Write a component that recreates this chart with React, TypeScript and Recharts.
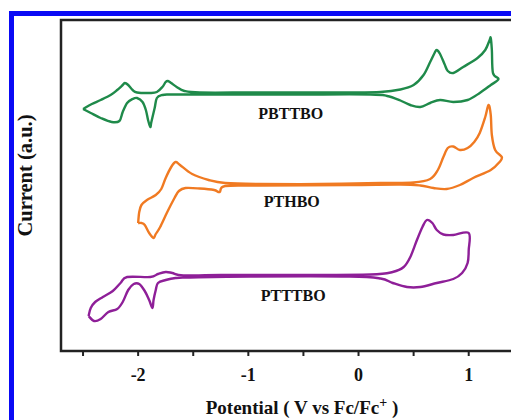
import { LineChart, Line, XAxis, YAxis, ReferenceArea, ReferenceDot } from 'recharts';

// potential (V vs Fc/Fc+) and current (a.u.) read along each closed CV loop
const pbttboV = [-2.5, -2.42, -2.34, -2.25, -2.19, -2.14, -2.12, -2.09, -2.05, -2.01, -1.89, -1.83, -1.78, -1.75, -1.73, -1.7, -1.65, -1.58, -1.44, -0.98, -0.53, -0.08, 0.2, 0.38, 0.5, 0.59, 0.65, 0.69, 0.71, 0.74, 0.78, 0.81, 0.86, 0.95, 1.08, 1.15, 1.19, 1.2, 1.21, 1.22, 1.27, 1.2, 1.1, 0.99, 0.86, 0.74, 0.65, 0.56, 0.47, 0.38, 0.26, 0.11, -0.53, -0.98, -1.44, -1.71, -1.78, -1.83, -1.85, -1.88, -1.89, -1.91, -1.93, -1.96, -2.01, -2.05, -2.1, -2.14, -2.17, -2.24, -2.34, -2.43, -2.5];
const pbttboI = [24.2, 24.7, 25.1, 25.6, 26.1, 26.6, 26.8, 26.6, 26.1, 25.85, 25.8, 25.9, 26.4, 26.9, 27.0, 26.8, 26.4, 26.0, 25.85, 25.85, 25.85, 25.85, 25.9, 26.15, 26.6, 27.6, 28.9, 29.8, 30.1, 29.7, 28.7, 28.0, 27.8, 28.4, 29.3, 30.1, 31.1, 31.3, 30.1, 27.8, 27.2, 26.6, 25.8, 25.1, 24.9, 25.1, 24.8, 24.4, 24.6, 25.05, 25.5, 25.65, 25.65, 25.65, 25.65, 25.65, 25.6, 25.3, 24.3, 22.9, 22.4, 23.1, 24.1, 24.9, 25.3, 25.2, 24.8, 23.9, 23.0, 22.9, 23.3, 23.8, 24.2];

const pthboV = [-2.0, -1.99, -1.97, -1.92, -1.84, -1.79, -1.75, -1.7, -1.66, -1.62, -1.51, -1.36, -1.21, -0.89, -0.35, 0.2, 0.5, 0.65, 0.72, 0.77, 0.81, 0.86, 0.92, 0.99, 1.05, 1.1, 1.15, 1.18, 1.2, 1.21, 1.24, 1.3, 1.28, 1.2, 1.04, 0.92, 0.8, 0.68, 0.56, 0.38, -0.08, -0.89, -1.21, -1.26, -1.31, -1.44, -1.57, -1.63, -1.67, -1.74, -1.8, -1.84, -1.86, -1.9, -1.94, -1.97, -2.0];
const pthboI = [12.8, 13.9, 14.6, 15.1, 15.6, 16.2, 17.3, 18.4, 18.9, 18.6, 17.7, 17.1, 16.8, 16.7, 16.7, 16.8, 16.85, 17.2, 18.1, 19.4, 20.3, 20.45, 20.1, 20.3, 20.9, 21.8, 23.4, 24.6, 23.6, 21.6, 20.1, 19.4, 18.9, 18.1, 17.3, 16.6, 16.2, 16.3, 16.55, 16.65, 16.6, 16.55, 16.5, 15.9, 16.1, 16.25, 16.3, 16.0, 15.3, 13.8, 12.4, 11.7, 11.3, 11.8, 12.6, 12.8, 12.8];

const ptttboV = [-2.45, -2.43, -2.39, -2.32, -2.23, -2.16, -2.1, -1.89, -1.82, -1.75, -1.69, -1.59, -1.25, -0.53, 0.11, 0.31, 0.41, 0.47, 0.53, 0.58, 0.62, 0.67, 0.71, 0.77, 0.86, 1.0, 1.0, 0.99, 0.94, 0.86, 0.71, 0.56, 0.44, 0.31, 0.2, -0.08, -0.98, -1.53, -1.66, -1.75, -1.82, -1.84, -1.86, -1.87, -1.9, -1.94, -1.99, -2.04, -2.09, -2.14, -2.19, -2.27, -2.34, -2.4, -2.45];
const ptttboI = [3.5, 4.3, 4.9, 5.4, 6.0, 6.8, 7.4, 7.4, 7.7, 7.9, 7.8, 7.55, 7.6, 7.6, 7.65, 7.9, 8.4, 9.4, 11.1, 12.4, 13.1, 12.8, 12.1, 11.65, 11.6, 11.8, 10.1, 8.8, 7.8, 7.2, 6.8, 6.4, 6.4, 6.8, 7.25, 7.45, 7.45, 7.35, 7.3, 7.1, 6.8, 6.1, 5.1, 4.3, 5.1, 6.0, 6.7, 6.7, 6.1, 4.9, 4.2, 3.9, 3.2, 3.0, 3.5];

const xTicks = [-2.5, -2, -1.5, -1, -0.5, 0, 0.5, 1];
const X_MIN = -2.7;
const X_MAX = 1.42;
const Y_MIN = 0;
const Y_MAX = 33.1;

const curveNames = ['PBTTBO', 'PTHBO', 'PTTTBO'];
const curveLabelV = [-0.615, -0.606, -0.593];
const curveLabelI = [23.8, 14.93, 5.6];

const toPoints = (v: number[], i: number[]) => v.map((x, k) => ({ v: x, i: i[k] }));

const series = [
  { name: 'PBTTBO', color: '#1f8a4a', data: toPoints(pbttboV, pbttboI) },
  { name: 'PTHBO', color: '#f07a22', data: toPoints(pthboV, pthboI) },
  { name: 'PTTTBO', color: '#8e1f98', data: toPoints(ptttboV, ptttboI) },
];

// smooth curve through the points (catmull-rom), works for loops where x goes back
const smoothLoop = (context: any) => {
  let pts: number[][] = [];
  return {
    areaStart() {},
    areaEnd() {},
    lineStart() {
      pts = [];
    },
    point(x: number, y: number) {
      pts.push([+x, +y]);
    },
    lineEnd() {
      if (!pts.length) return;
      context.moveTo(pts[0][0], pts[0][1]);
      const t = 1 / 6;
      for (let k = 0; k < pts.length - 1; k++) {
        const p0 = pts[k - 1] || pts[k];
        const p1 = pts[k];
        const p2 = pts[k + 1];
        const p3 = pts[k + 2] || p2;
        context.bezierCurveTo(
          p1[0] + (p2[0] - p0[0]) * t,
          p1[1] + (p2[1] - p0[1]) * t,
          p2[0] - (p3[0] - p1[0]) * t,
          p2[1] - (p3[1] - p1[1]) * t,
          p2[0],
          p2[1]
        );
      }
    },
  };
};

const serif = '"Liberation Serif", "Times New Roman", serif';

const XTitle = (props: any) => {
  const vb = props.viewBox;
  const x = vb.x + vb.width / 2 + 14;
  return (
    <text x={x} y={vb.y + 63} textAnchor="middle" fontFamily={serif} fontWeight="bold" fontSize={19} fill="#111">
      Potential ( V vs Fc/Fc
      <tspan dy={-7} fontSize={14}>+</tspan>
      <tspan dy={7}> )</tspan>
    </text>
  );
};

const YTitle = (props: any) => {
  const vb = props.viewBox;
  const x = 17;
  const y = vb.y + vb.height / 2 - 10;
  return (
    <text x={x} y={y} transform={`rotate(-90 ${x} ${y})`} textAnchor="middle" dominantBaseline="central" fontFamily={serif} fontWeight="bold" fontSize={20.5} fill="#111">
      Current (a.u.)
    </text>
  );
};

export default function App() {
  return (
    <div style={{ position: 'relative', width: 511, height: 412 }}>
      <div style={{ position: 'absolute', left: 1, top: 3, width: 510, height: 5, background: '#0a0af5' }} />
      <div style={{ position: 'absolute', left: 1, top: 3, width: 5, height: 409, background: '#0a0af5' }} />
      <div style={{ position: 'absolute', left: 0, top: 0 }}>
        <LineChart width={511} height={412} margin={{ top: 12, right: 4, bottom: 0, left: 0 }}>
          <XAxis
            type="number"
            dataKey="v"
            domain={[X_MIN, X_MAX]}
            allowDataOverflow
            ticks={xTicks}
            tickFormatter={(t: number) => (Number.isInteger(t) ? String(t) : '')}
            height={69}
            axisLine={false}
            tickLine={{ stroke: '#222', strokeWidth: 2 }}
            tickSize={5}
            tickMargin={12}
            tick={{ fontFamily: serif, fontWeight: 'bold', fontSize: 18, fill: '#111' }}
            label={<XTitle />}
          />
          <YAxis
            type="number"
            dataKey="i"
            domain={[Y_MIN, Y_MAX]}
            allowDataOverflow
            width={53}
            axisLine={false}
            tick={false}
            tickLine={false}
            label={<YTitle />}
          />
          <ReferenceArea x1={X_MIN} x2={X_MAX} y1={Y_MIN} y2={Y_MAX} fill="none" stroke="#222" strokeWidth={2.5} />
          {series.map((s) => (
            <Line
              key={s.name}
              data={s.data}
              dataKey="i"
              type={smoothLoop as any}
              stroke={s.color}
              strokeWidth={2.4}
              dot={false}
              isAnimationActive={false}
            />
          ))}
          {curveNames.map((n, k) => (
            <ReferenceDot
              key={n}
              x={curveLabelV[k]}
              y={curveLabelI[k]}
              r={1}
              fill="none"
              stroke="none"
              label={{ value: n, position: 'center', fontFamily: serif, fontWeight: 'bold', fontSize: 16, fill: '#111' }}
            />
          ))}
        </LineChart>
      </div>
    </div>
  );
}
